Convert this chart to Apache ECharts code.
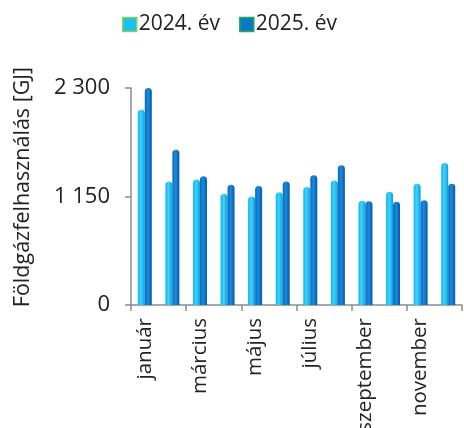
<!DOCTYPE html>
<html><head><meta charset="utf-8">
<script src="https://cdn.jsdelivr.net/npm/echarts@6/dist/echarts.min.js"></script>
<style>html,body{margin:0;padding:0;background:#fff}#c{width:464px;height:428px}</style>
</head><body><div id="c"></div>
<script>
var months = ['január','február','március','április','május','június','július','augusztus','szeptember','október','november','december'];
var seriesNames = ['2024. év','2025. év'];
var values2024 = [2070,1310,1330,1180,1150,1195,1250,1320,1105,1200,1285,1505];
var values2025 = [2300,1645,1365,1275,1260,1310,1375,1480,1100,1095,1110,1285];
var yTicks = [0,1150,2300];
var yTitle = 'Földgázfelhasználás [GJ]';

function fmt(v){ return String(v).replace(/\B(?=(\d{3})+(?!\d))/g,' '); }
function cyl(c1,c2,c3){
  return new echarts.graphic.LinearGradient(0,0,1,0,[{offset:0,color:c1},{offset:0.45,color:c2},{offset:1,color:c3}]);
}
var chart = echarts.init(document.getElementById('c'));
chart.setOption({
  animation:false,
  textStyle:{fontFamily:'Open Sans'},
  legend:{
    top:9,left:117,itemWidth:14,itemHeight:14,itemGap:19,
    textStyle:{fontSize:21,color:'#222',fontFamily:'Open Sans',padding:[0,0,0,-3]},
    data:[
      {name:seriesNames[0],icon:'rect',itemStyle:{color:'#19C0F0',borderColor:'#92D050',borderWidth:1.5}},
      {name:seriesNames[1],icon:'rect',itemStyle:{color:'#0A78C8',borderColor:'#2EA850',borderWidth:1.5}}
    ]
  },
  graphic:[{type:'text',x:23,y:187,rotation:Math.PI/2,
    style:{text:yTitle,fontSize:21.5,fill:'#222',fontFamily:'Open Sans',align:'center',verticalAlign:'middle'}}],
  grid:{left:131,right:2,top:88,bottom:123,containLabel:false,outerBoundsMode:'none'},
  xAxis:{
    type:'category',data:months,
    axisLine:{lineStyle:{color:'#8c8c8c',width:1.5}},
    axisTick:{show:true,length:6,lineStyle:{color:'#8c8c8c',width:1.5}},
    axisLabel:{interval:1,rotate:90,fontSize:20.5,color:'#222',margin:13,fontFamily:'Open Sans'}
  },
  yAxis:{
    type:'value',min:yTicks[0],max:yTicks[2],interval:1150,
    axisLine:{show:true,lineStyle:{color:'#8c8c8c',width:1.5}},
    axisTick:{show:true,length:6,lineStyle:{color:'#8c8c8c',width:1.5}},
    splitLine:{show:false},
    axisLabel:{fontSize:22,color:'#222',margin:21,fontFamily:'Open Sans',formatter:function(v){return fmt(v);}}
  },
  series:[
    {name:seriesNames[0],type:'bar',data:values2024,barWidth:7,barGap:'0%',
     itemStyle:{color:cyl('#12B4EA','#3FD2FF','#0B9ED8'),borderRadius:[3.5,3.5,0,0]}},
    {name:seriesNames[1],type:'bar',data:values2025,barWidth:7,
     itemStyle:{color:cyl('#0868B8','#1A8AE0','#055AA6'),borderRadius:[3.5,3.5,0,0]}}
  ]
});
</script></body></html>
